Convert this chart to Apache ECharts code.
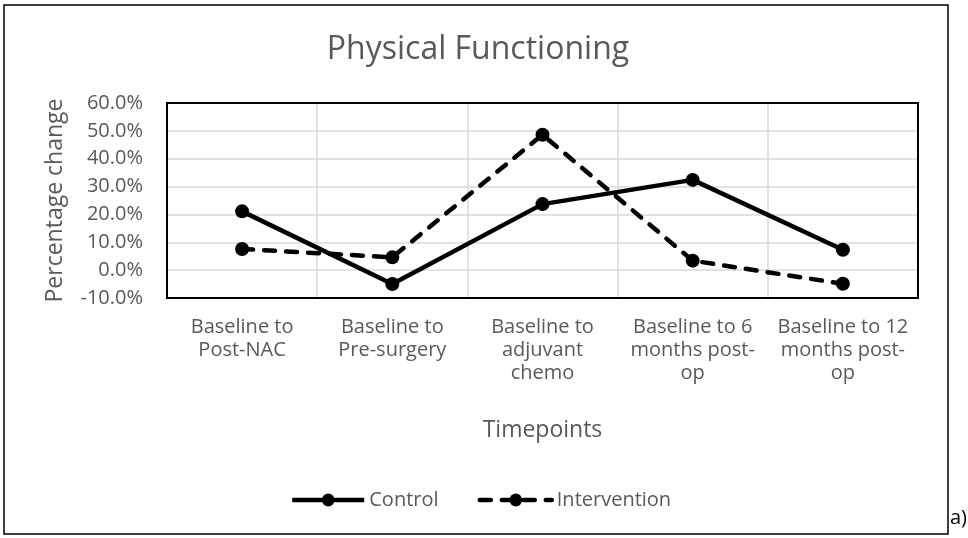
<!DOCTYPE html>
<html>
<head>
<meta charset="utf-8">
<style>
  html, body { margin: 0; padding: 0; background: #fff; }
  #chart { width: 968px; height: 538px; }
</style>
<script src="https://cdn.jsdelivr.net/npm/echarts@6/dist/echarts.min.js"></script>
</head>
<body>
<div id="chart"></div>
<script>
// Timepoint categories (line breaks as wrapped on the axis)
const categories = [
  'Baseline to\nPost-NAC',
  'Baseline to\nPre-surgery',
  'Baseline to\nadjuvant\nchemo',
  'Baseline to 6\nmonths post-\nop',
  'Baseline to 12\nmonths post-\nop'
];
// Percentage change in physical functioning score
const controlValues = [21.1, -5.0, 23.7, 32.4, 7.3];
const interventionValues = [7.6, 4.6, 48.6, 3.4, -4.9];
// Value axis range and step (percent)
const yMin = -10, yMax = 60, yStep = 10;

const FONT = 'Open Sans';
const GREY = '#595959';
const GRID = { left: 167, top: 103, width: 751, height: 195 };

const chart = echarts.init(document.getElementById('chart'), null, { renderer: 'canvas' });

chart.setOption({
  backgroundColor: '#fff',
  animation: false,
  title: {
    text: 'Physical Functioning',
    left: 473,
    top: 29,
    textAlign: 'center',
    textStyle: { fontFamily: FONT, fontSize: 32, fontWeight: 'normal', color: GREY }
  },
  legend: {
    data: ['Control', 'Intervention'],
    left: 285,
    top: 485,
    itemWidth: 72,
    itemHeight: 16,
    itemGap: 39,
    lineStyle: { width: 4.5 },
    textStyle: { fontFamily: FONT, fontSize: 20, color: GREY }
  },
  grid: Object.assign({ show: false }, GRID),
  xAxis: {
    type: 'category',
    data: categories,
    boundaryGap: true,
    name: 'Timepoints',
    nameLocation: 'middle',
    nameGap: 121,
    nameTextStyle: { fontFamily: FONT, fontSize: 23, color: GREY },
    axisLine: { show: false },
    axisTick: { show: false },
    axisLabel: {
      interval: 0,
      margin: 18,
      fontFamily: FONT,
      fontSize: 20,
      lineHeight: 23,
      color: GREY,
      align: 'center',
      verticalAlign: 'top'
    },
    splitLine: { show: true, lineStyle: { color: '#d9d9d9', width: 1.5 } }
  },
  yAxis: {
    type: 'value',
    min: yMin,
    max: yMax,
    interval: yStep,
    name: 'Percentage change',
    nameLocation: 'middle',
    nameGap: 100,
    nameRotate: 90,
    nameTextStyle: { fontFamily: FONT, fontSize: 23, color: GREY },
    axisLine: { show: false },
    axisTick: { show: false },
    axisLabel: {
      margin: 24,
      fontFamily: FONT,
      fontSize: 20,
      color: GREY,
      formatter: v => v.toFixed(1) + '%'
    },
    splitLine: { show: true, lineStyle: { color: '#d9d9d9', width: 1.5 } }
  },
  series: [
    {
      name: 'Control',
      type: 'line',
      data: controlValues,
      symbol: 'circle',
      symbolSize: 14,
      color: '#000',
      lineStyle: { color: '#000', width: 4.5 },
      itemStyle: { color: '#000' },
      z: 3
    },
    {
      name: 'Intervention',
      type: 'line',
      data: interventionValues,
      symbol: 'circle',
      symbolSize: 14,
      color: '#000',
      lineStyle: { color: '#000', width: 4.5, type: [11, 11], cap: 'round' },
      itemStyle: { color: '#000' },
      z: 4
    }
  ],
  graphic: [
    // outer chart frame
    {
      type: 'rect',
      shape: { x: 4, y: 5, width: 944, height: 529 },
      style: { fill: 'none', stroke: '#000', lineWidth: 1.5 },
      silent: true,
      z: -1
    },
    // plot-area frame drawn above the gridlines
    {
      type: 'rect',
      shape: { x: GRID.left, y: GRID.top, width: GRID.width, height: GRID.height },
      style: { fill: 'none', stroke: '#000', lineWidth: 2 },
      silent: true,
      z: 1
    },
    {
      type: 'text',
      left: 950,
      top: 508,
      style: { text: 'a)', fontFamily: FONT, fontSize: 20, fill: '#000' }
    }
  ]
});
</script>
</body>
</html>
